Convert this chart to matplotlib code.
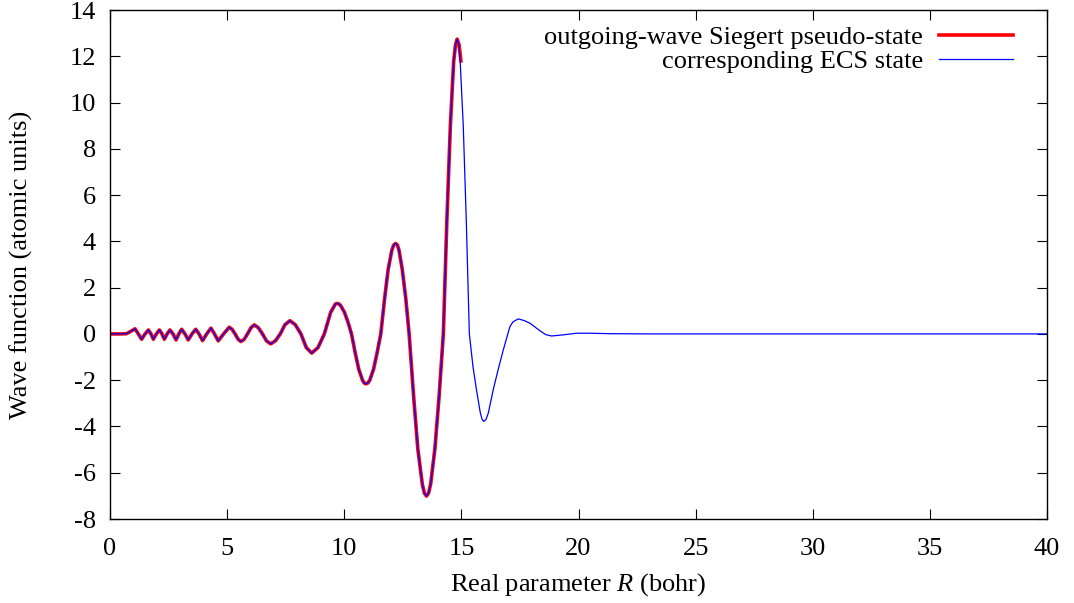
import numpy as np
import matplotlib
matplotlib.use("Agg")
import matplotlib.pyplot as plt

plt.rcParams['font.family'] = ['Liberation Serif', 'DejaVu Serif']
plt.rcParams['mathtext.fontset'] = 'custom'
plt.rcParams['mathtext.rm'] = 'Liberation Serif'
plt.rcParams['mathtext.it'] = 'Liberation Serif:italic'
plt.rcParams['axes.unicode_minus'] = False

# values
r_siegert = [0.0, 0.5, 0.71, 0.9, 1.07, 1.21, 1.35, 1.50, 1.64, 1.75, 1.85, 1.98,
             2.11, 2.22, 2.32, 2.44, 2.56, 2.69, 2.82, 2.94, 3.06, 3.20, 3.34,
             3.50, 3.66, 3.80, 3.95, 4.13, 4.31, 4.46, 4.62, 4.85, 5.09, 5.21,
             5.34, 5.47, 5.59, 5.73, 5.87, 6.02, 6.16, 6.33, 6.51, 6.68, 6.86,
             7.06, 7.27, 7.47, 7.68, 7.91, 8.15, 8.38, 8.61, 8.88, 9.15, 9.42,
             9.62, 9.70, 9.78, 9.85, 10.01, 10.16, 10.31, 10.47, 10.62, 10.78,
             10.85, 10.93, 11.01, 11.09, 11.25, 11.40, 11.56, 11.72, 11.87,
             12.03, 12.11, 12.19, 12.27, 12.34, 12.48, 12.63, 12.77, 12.96,
             13.14, 13.33, 13.42, 13.51, 13.60, 13.69, 13.87, 14.05, 14.23,
             14.38, 14.53, 14.67, 14.75, 14.82, 14.90, 14.98]
psi_siegert = [0.0, 0.0, 0.01, 0.12, 0.22, 0.0, -0.23, 0.0, 0.17, 0.0, -0.23, 0.0,
               0.17, 0.0, -0.23, 0.0, 0.17, 0.0, -0.26, 0.0, 0.20, 0.0, -0.26,
               0.0, 0.20, 0.0, -0.29, 0.0, 0.25, 0.0, -0.30, 0.0, 0.29, 0.20,
               0.0, -0.23, -0.33, -0.23, 0.0, 0.27, 0.39, 0.27, 0.0, -0.30, -0.43,
               -0.30, 0.0, 0.40, 0.57, 0.40, 0.0, -0.59, -0.83, -0.59, 0.0, 0.93,
               1.29, 1.32, 1.29, 1.22, 0.93, 0.51, 0.0, -0.83, -1.53, -2.00,
               -2.12, -2.16, -2.12, -2.00, -1.53, -0.83, 0.0, 1.50, 2.76,
               3.61, 3.84, 3.91, 3.84, 3.61, 2.76, 1.50, 0.0, -2.68,
               -4.96, -6.48, -6.88, -7.01, -6.88, -6.48, -4.96, -2.68, 0.0,
               4.88, 9.01, 11.77, 12.50, 12.74, 12.50, 11.80]

r_ecs_tail = [15.08, 15.21, 15.34, 15.50, 15.65, 15.81, 15.89, 15.96, 16.05, 16.15,
              16.36, 16.58, 16.79, 17.07, 17.20, 17.43, 17.70, 17.93, 18.35,
              18.60, 18.85, 19.35, 19.92, 20.50, 21.34, 23.0, 40.0]
psi_ecs_tail = [9.01, 4.88, 0.0, -1.45, -2.45, -3.42, -3.71, -3.78, -3.70, -3.42,
                -2.41, -1.50, -0.69, 0.31, 0.52, 0.65, 0.57, 0.46, 0.14,
                -0.03, -0.09, -0.04, 0.03, 0.03, 0.01, 0.0, 0.0]

r_ecs = r_siegert[:-1] + [14.95] + r_ecs_tail
psi_ecs = psi_siegert[:-1] + [11.77] + psi_ecs_tail

fig = plt.figure(figsize=(10.74, 6.03), dpi=100)
ax = fig.add_axes([0.1024, 0.1393, 0.8725, 0.8441])

ax.plot(r_siegert, psi_siegert, c='#ff0000', lw=2.6,
        label='outgoing-wave Siegert pseudo-state')
ax.plot(r_ecs, psi_ecs, c='#0000ff', lw=0.9, label='corresponding ECS state')

ax.set_xlim(0, 40)
ax.set_ylim(-8, 14)
ax.set_xticks(np.arange(0, 41, 5))
ax.set_yticks(np.arange(-8, 15, 2))
ax.tick_params(direction='in', length=7, width=0.8, top=True, right=True,
               labelsize=19, pad=10)
ax.tick_params(axis='x', pad=14)
for s in ax.spines.values():
    s.set_linewidth(1.0)

ax.set_xlabel('Real parameter $R$ (bohr)', fontsize=19, labelpad=8)
ax.set_ylabel('Wave function (atomic units)', fontsize=19, labelpad=26)

ax.legend(loc='upper right', frameon=False, fontsize=19, markerfirst=False,
          handlelength=2.8, handletextpad=0.6, labelspacing=0.0,
          borderaxespad=0.3, bbox_to_anchor=(0.983, 1.005))

fig.savefig('out.png', dpi=100)
